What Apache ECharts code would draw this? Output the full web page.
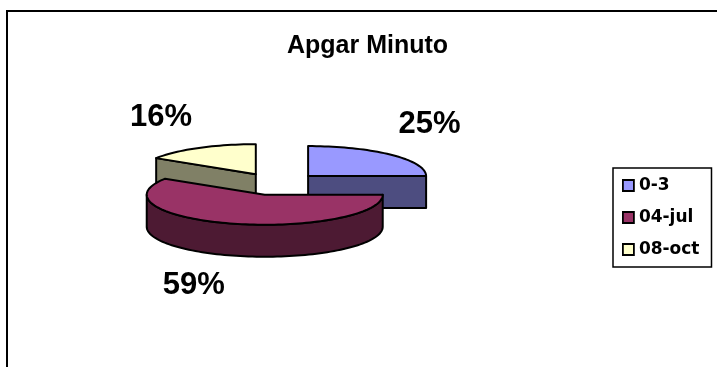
<!DOCTYPE html>
<html>
<head>
<meta charset="utf-8">
<script src="https://cdn.jsdelivr.net/npm/echarts@6/dist/echarts.min.js"></script>
<style>html,body{margin:0;padding:0;background:#fff}#c{width:717px;height:367px}</style>
</head>
<body>
<div id="c"></div>
<script>
// ---- data ----
var categories = ['0-3', '04-jul', '08-oct'];
var values = [25, 59, 16];
var topColors = ['#9999FF', '#993366', '#FFFFCC'];
var sideColors = ['#4D4D80', '#4D1A33', '#808066'];
var titleText = 'Apgar Minuto';

// ---- layout (pixels) ----
var CX = 277, CY = 184, RX = 118, RY = 30, DEPTH = 32, EXPLODE = 44;

var total = values.reduce(function (a, b) { return a + b; }, 0);
var starts = [], acc = 0;
values.forEach(function (v) { starts.push(acc / total * 360); acc += v; });

function rad(d) { return d * Math.PI / 180; }

function makeRender(idx) {
  return function (params, api) {
    var a0 = starts[idx];
    var a1 = a0 + values[idx] / total * 360;
    var mid = (a0 + a1) / 2;
    var k = RY / RX;
    var cx = CX + EXPLODE * Math.sin(rad(mid));
    var cy = CY - EXPLODE * k * Math.cos(rad(mid));
    function pt(th, dy) {
      return [cx + RX * Math.sin(rad(th)), cy - RY * Math.cos(rad(th)) + (dy || 0)];
    }
    function arc(b0, b1, dy) {
      var pts = [], n = Math.max(2, Math.ceil((b1 - b0) / 2));
      for (var i = 0; i <= n; i++) pts.push(pt(b0 + (b1 - b0) * i / n, dy));
      return pts;
    }
    var stroke = { stroke: '#000', lineWidth: 2, lineJoin: 'round' };
    var children = [];
    var side = Object.assign({ fill: sideColors[idx] }, stroke);
    // radial wall at start edge
    if (Math.sin(rad(a0)) < -1e-6) {
      var r = pt(a0);
      children.push({ type: 'polygon', shape: { points: [[cx, cy], r, [r[0], r[1] + DEPTH], [cx, cy + DEPTH]] }, style: side });
    }
    // radial wall at end edge
    if (Math.sin(rad(a1)) > 1e-6) {
      var r2 = pt(a1);
      children.push({ type: 'polygon', shape: { points: [[cx, cy], r2, [r2[0], r2[1] + DEPTH], [cx, cy + DEPTH]] }, style: side });
    }
    // outer curved wall (front half 90..270)
    var v0 = Math.max(a0, 90), v1 = Math.min(a1, 270);
    if (v1 > v0) {
      var topArc = arc(v0, v1, 0);
      var botArc = arc(v0, v1, DEPTH).reverse();
      children.push({ type: 'polygon', shape: { points: topArc.concat(botArc) }, style: side });
    }
    // top face
    children.push({ type: 'polygon', shape: { points: [[cx, cy]].concat(arc(a0, a1, 0)) },
      style: Object.assign({ fill: topColors[idx] }, stroke) });
    // label
    var rim = pt(mid);
    var s = Math.sin(rad(mid)), c = -Math.cos(rad(mid));
    var lx = rim[0] + (s >= 0 ? 38 : -38);
    var ly = rim[1] + (c > 0 ? DEPTH + 30 : -30);
    children.push({ type: 'text', style: {
      text: Math.round(values[idx] / total * 100) + '%', x: lx, y: ly,
      align: 'center', verticalAlign: 'middle',
      font: 'bold 31px "Liberation Sans", Arial, sans-serif', fill: '#000' } });
    return { type: 'group', children: children };
  };
}

var series = categories.map(function (name, i) {
  var a0 = starts[i], a1 = a0 + values[i] / total * 360, mid = (a0 + a1) / 2;
  return {
    name: name, type: 'custom', coordinateSystem: 'none',
    z: 10 + Math.round(-Math.cos(rad(mid)) * 5),
    itemStyle: { color: topColors[i] },
    data: [values[i]],
    renderItem: makeRender(i),
    silent: true, animation: false
  };
});

var chart = echarts.init(document.getElementById('c'), null, { renderer: 'canvas' });
chart.setOption({
  backgroundColor: '#fff',
  animation: false,
  title: {
    text: titleText, left: 287, top: 34, padding: 0,
    textStyle: { fontFamily: '"Liberation Sans", Arial, sans-serif', fontWeight: 'bold', fontSize: 25, color: '#000' }
  },
  legend: {
    orient: 'vertical', left: 613, top: 168,
    padding: [9, 12, 9, 9], itemGap: 15, itemWidth: 11, itemHeight: 11,
    borderColor: '#000', borderWidth: 1.5, icon: 'rect', selectedMode: false,
    textStyle: { fontFamily: '"DejaVu Sans", sans-serif', fontWeight: 'bold', fontSize: 17, color: '#000' },
    data: categories.map(function (n, i) {
      return { name: n, itemStyle: { color: topColors[i], borderColor: '#000', borderWidth: 1.8 } };
    })
  },
  graphic: [{
    type: 'rect', z: 0, silent: true,
    shape: { x: 7, y: 11, width: 800, height: 500 },
    style: { fill: 'none', stroke: '#000', lineWidth: 2 }
  }],
  series: series
});
</script>
</body>
</html>
